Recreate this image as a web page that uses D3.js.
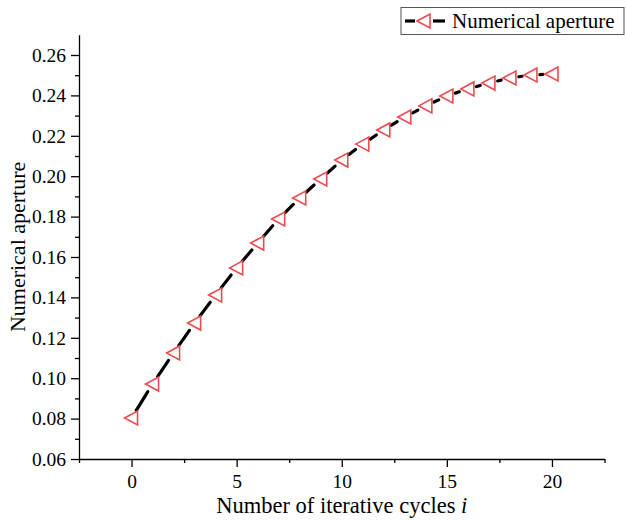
<!DOCTYPE html>
<html lang="en">
<head>
<meta charset="UTF-8">
<title>Numerical aperture</title>
<style type="text/css">
body { margin: 0; background: #fff; }
text { font-family: "Liberation Serif", "Times New Roman", serif; fill: #000; }
.axis .domain { stroke: #000; stroke-width: 1.3; }
.axis .tick line { stroke: #000; stroke-width: 1.3; }
</style>
</head>
<body>
<script src="https://cdn.jsdelivr.net/npm/d3@7/dist/d3.min.js"></script>
<script>
var cycles = [0, 1, 2, 3, 4, 5, 6, 7, 8, 9, 10, 11, 12, 13, 14, 15, 16, 17, 18, 19, 20]
var aperture = [0.0803, 0.0971, 0.1125, 0.1273, 0.1412, 0.1546, 0.1669, 0.1788, 0.1892, 0.1986,
  0.2080, 0.2159, 0.2229, 0.2293, 0.2348, 0.2397, 0.2432, 0.2461, 0.2486, 0.2501, 0.2506]
var xTicks = [0, 5, 10, 15, 20]
var xMinor = [-2.5, 2.5, 7.5, 12.5, 17.5, 22.5]
var yTicks = [0.06, 0.08, 0.10, 0.12, 0.14, 0.16, 0.18, 0.20, 0.22, 0.24, 0.26]
var yMinor = [0.07, 0.09, 0.11, 0.13, 0.15, 0.17, 0.19, 0.21, 0.23, 0.25]
var seriesName = "Numerical aperture"

var red = "#ec4a4f"
var width = 626, height = 521

var x = d3.scaleLinear().domain([-2.5, 22.5]).range([79, 604.5])
var y = d3.scaleLinear().domain([0.06, 0.27]).range([459, 34.8])

var svg = d3.select("body").append("svg")
    .attr("width", width)
    .attr("height", height)

// minor ticks
svg.append("g")
    .attr("class", "axis")
    .attr("transform", "translate(0," + y(0.06) + ")")
    .call(d3.axisBottom(x).tickValues(xMinor).tickSize(4).tickSizeOuter(0).tickFormat(""))
    .select(".domain").remove()
svg.append("g")
    .attr("class", "axis")
    .attr("transform", "translate(" + x(-2.5) + ",0)")
    .call(d3.axisLeft(y).tickValues(yMinor).tickSize(4).tickSizeOuter(0).tickFormat(""))
    .select(".domain").remove()

var xAxis = svg.append("g")
    .attr("class", "axis")
    .attr("transform", "translate(0," + y(0.06) + ")")
    .call(d3.axisBottom(x).tickValues(xTicks).tickSize(8).tickSizeOuter(0).tickPadding(7).tickFormat(d3.format("d")))
xAxis.selectAll("text").style("font-size", "19.5px")

var yAxis = svg.append("g")
    .attr("class", "axis")
    .attr("transform", "translate(" + x(-2.5) + ",0)")
    .call(d3.axisLeft(y).tickValues(yTicks).tickSize(8).tickSizeOuter(0).tickPadding(5).tickFormat(d3.format(".2f")))
yAxis.selectAll("text").style("font-size", "19.5px")

// axis titles
svg.append("text")
    .attr("transform", "translate(17," + (y(0.06) + y(0.27)) / 2 + ") rotate(-90)")
    .attr("text-anchor", "middle")
    .attr("dy", "0.35em")
    .style("font-size", "22px")
    .text("Numerical aperture")

var xt = svg.append("text")
    .attr("x", (x(-2.5) + x(22.5)) / 2)
    .attr("y", 513)
    .attr("text-anchor", "middle")
    .style("font-size", "22.5px")
xt.append("tspan").text("Number of iterative cycles ")
xt.append("tspan").style("font-style", "italic").text("i")

var data = cycles.map(function (c, i) { return {x: x(c), y: y(aperture[i])} })

// line segments broken around markers
var gap = 9
var segs = svg.append("g")
for (var i = 0; i < data.length - 1; i++) {
  var a = data[i], b = data[i + 1]
  var dx = b.x - a.x, dy = b.y - a.y
  var len = Math.sqrt(dx * dx + dy * dy)
  if (len <= gap * 2) continue
  var ux = dx / len, uy = dy / len
  segs.append("line")
    .attr("x1", a.x + ux * gap).attr("y1", a.y + uy * gap)
    .attr("x2", b.x - ux * gap).attr("y2", b.y - uy * gap)
    .attr("stroke", "#000")
    .attr("stroke-width", 3.2)
    .attr("stroke-linecap", "round")
}

var tri = "M-7,0L6,-7L6,7Z"
svg.append("g").selectAll("path")
    .data(data)
    .enter()
    .append("path")
    .attr("d", tri)
    .attr("transform", function (d) { return "translate(" + d.x + "," + d.y + ")" })
    .attr("fill", "#fff")
    .attr("stroke", red)
    .attr("stroke-width", 1.6)

// legend
var lg = svg.append("g")
lg.append("rect")
    .attr("x", 401).attr("y", 7.5)
    .attr("width", 223).attr("height", 27)
    .attr("fill", "#fff")
    .attr("stroke", "#555")
    .attr("stroke-width", 1)
lg.append("line")
    .attr("x1", 405).attr("x2", 415).attr("y1", 21).attr("y2", 21)
    .attr("stroke", "#000").attr("stroke-width", 3.2)
lg.append("line")
    .attr("x1", 433).attr("x2", 445).attr("y1", 21).attr("y2", 21)
    .attr("stroke", "#000").attr("stroke-width", 3.2)
lg.append("path")
    .attr("d", tri)
    .attr("transform", "translate(424,21)")
    .attr("fill", "#fff")
    .attr("stroke", red)
    .attr("stroke-width", 1.6)
lg.append("text")
    .attr("x", 452).attr("y", 28)
    .style("font-size", "21px")
    .text(seriesName)
</script>
</body>
</html>
